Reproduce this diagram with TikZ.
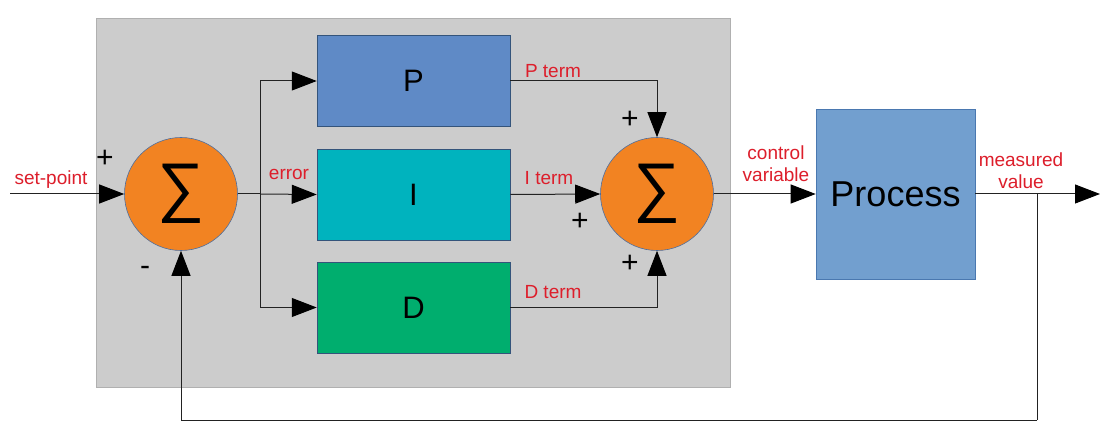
\documentclass[tikz,border=0pt]{standalone}
\usepackage{fontspec}
\setmainfont{Liberation Sans}
\usetikzlibrary{arrows.meta}
\definecolor{panel}{HTML}{CCCCCC}
\definecolor{panelborder}{HTML}{B0B0B0}
\definecolor{sumfill}{HTML}{F28322}
\definecolor{sumborder}{HTML}{4F6F9F}
\definecolor{pfill}{HTML}{5F8AC6}
\definecolor{ifill}{HTML}{00B3BE}
\definecolor{dfill}{HTML}{00AE6E}
\definecolor{procfill}{HTML}{729FCF}
\definecolor{boxborder}{HTML}{4A78B0}
\definecolor{lbl}{HTML}{DD1E2B}
\definecolor{wire}{HTML}{222222}
\tikzset{
  sumnode/.style={circle, fill=sumfill, draw=sumborder, line width=0.6pt, minimum size=113pt, inner sep=0pt, font=\fontsize{66}{66}\selectfont},
  termbox/.style={draw=boxborder!70!black, line width=0.5pt, minimum width=193pt, minimum height=91pt, inner sep=0pt, font=\fontsize{31}{31}\selectfont},
  procbox/.style={draw=boxborder, fill=procfill, line width=0.6pt, minimum width=159pt, minimum height=170pt, inner sep=0pt, font=\fontsize{36}{36}\selectfont},
  lab/.style={text=lbl, font=\fontsize{19}{22}\selectfont, inner sep=0pt, align=center},
  sign/.style={font=\fontsize{30}{30}\selectfont, inner sep=0pt},
  wireline/.style={draw=wire, line width=1pt},
  arr/.style={wireline, -{Triangle[length=25pt,width=19pt,fill=black,color=black]}},
}
\begin{document}
\begin{tikzpicture}[x=1pt,y=-1pt]
\useasboundingbox (0,0) rectangle (1120,441);
\fill[white] (0,0) rectangle (1120,441);
\draw[fill=panel, draw=panelborder, line width=1pt] (96,19) rectangle (730,387);

\node[sumnode] (s1) at (181,194) {∑};
\node[sumnode] (s2) at (657,194) {∑};
\node[termbox, fill=pfill] (P) at (413.5,81) {P};
\node[termbox, fill=ifill] (I) at (413.5,194.5) {I};
\node[termbox, fill=dfill] (D) at (413.5,307.5) {D};
\node[procbox] (proc) at (895.5,194) {Process};

\coordinate (in) at (10,194);
\coordinate (br) at (260,194);
\coordinate (out) at (1100,194);
\coordinate (tap) at (1037,194);
\coordinate (fb) at (1037,420);

\draw[arr] (in) -- (s1.west);
\draw[wireline] (s1.east) -- (br);
\draw[wireline] (br |- P) -- (br |- D);
\draw[arr] (br |- P) -- (P.west);
\draw[arr] (br) -- (I.west);
\draw[arr] (br |- D) -- (D.west);
\draw[arr] (P.east) -| (s2.north);
\draw[arr] (I.east) -- (s2.west);
\draw[arr] (D.east) -| (s2.south);
\draw[arr] (s2.east) -- (proc.west);
\draw[arr] (proc.east) -- (out);
\draw[wireline] (tap) -- (fb);
\draw[arr] (fb) -| (s1.south);

\node[lab] (lsp) at (51,180) {set-point};
\node[lab] (lerr) at (289,174) {error};
\node[lab] (lp) at (553,71) {P term};
\node[lab] (li) at (549,178) {I term};
\node[lab] (ld) at (553,292) {D term};
\node[lab] (lcv) at (776,164) {control\\variable};
\node[lab] (lmv) at (1021,171) {measured\\value};

\node[sign] (p1) at (105,159) {+};
\node[sign] (m1) at (145,271) {-};
\node[sign] (p2) at (630,120) {+};
\node[sign] (p3) at (580,222) {+};
\node[sign] (p4) at (630,264) {+};
\end{tikzpicture}
\end{document}
